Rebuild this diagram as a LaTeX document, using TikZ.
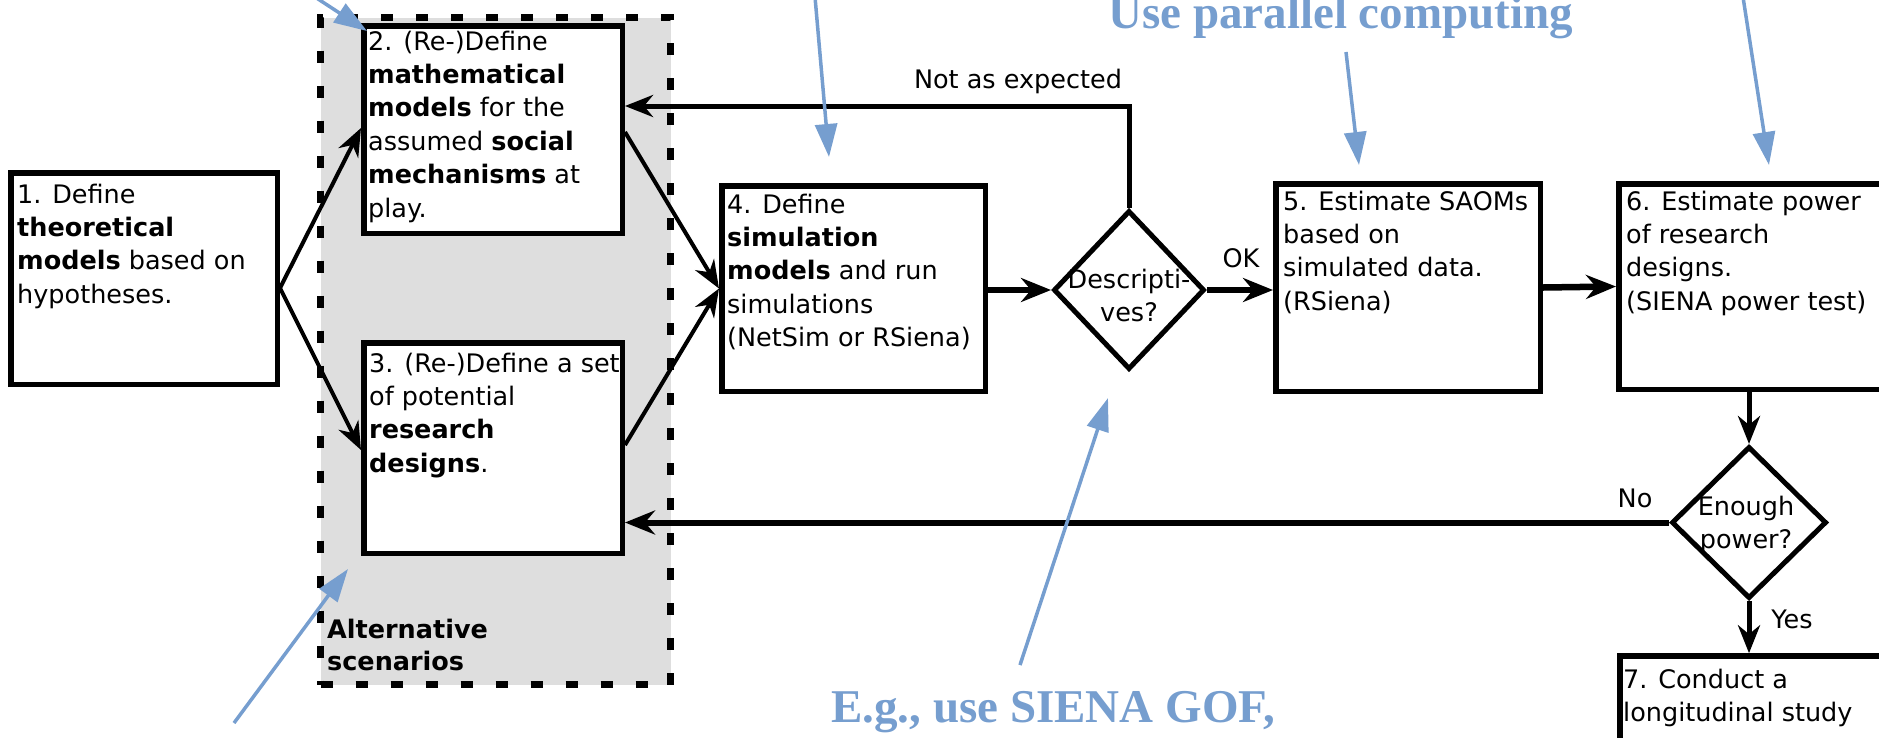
\documentclass[tikz,border=0pt]{standalone}
\usepackage{fontspec}
\setmainfont{DejaVu Sans}
\newfontfamily\tnr{Liberation Serif}
\usetikzlibrary{arrows.meta,shapes.geometric}
\definecolor{annot}{HTML}{769ECF}
\definecolor{altgray}{HTML}{DEDEDE}
\begin{document}
\begin{tikzpicture}[x=1pt,y=-1pt,
  box/.style={draw, line width=5.5pt, fill=white, inner sep=0pt},
  dia/.style={draw, diamond, line width=5pt, fill=white, inner sep=0pt},
  altbox/.style={draw, fill=altgray, line width=7pt, dash pattern=on 12pt off 23pt, inner sep=0pt},
  txt/.style={font=\fontsize{25.5}{33.4}\selectfont, align=left, anchor=base west, inner sep=0pt},
  ctxt/.style={font=\fontsize{25.5}{33.6}\selectfont, align=center, anchor=base, inner sep=0pt},
  conn/.style={line width=4pt, -{Stealth[length=28pt,width=22pt,inset=9pt]}},
  thickconn/.style={line width=6.5pt, -{Stealth[length=30pt,width=24pt,inset=10pt]}},
  midconn/.style={line width=5pt, -{Stealth[length=28pt,width=22pt,inset=9pt]}},
  note/.style={text=annot, font=\tnr\bfseries\fontsize{47}{50}\selectfont, anchor=base west, inner sep=0pt},
  blue/.style={draw=annot, line width=3.5pt, -{Triangle[length=33pt,width=22pt]}}
]
\useasboundingbox (0,0) rectangle (1879,737);
\clip (0,0) rectangle (1879,737);

% alternative scenarios region
\node[altbox, minimum width=350pt, minimum height=667pt] (alt) at (495.5,351) {};
\node[txt, font=\fontsize{25.5}{32}\selectfont\bfseries] (altt) at (327,670) {Alternative\\scenarios};

% boxes
\node[box, minimum width=266.5pt, minimum height=211.5pt] (b1) at (144,278.5) {};
\node[box, minimum width=258.5pt, minimum height=207.5pt] (b2) at (493,129.5) {};
\node[box, minimum width=258.5pt, minimum height=210.5pt] (b3) at (493,448) {};
\node[box, minimum width=263.5pt, minimum height=205.5pt] (b4) at (853.5,288.5) {};
\node[box, minimum width=264.5pt, minimum height=207.5pt] (b5) at (1408,287.5) {};
\node[box, minimum width=264.5pt, minimum height=205.5pt] (b6) at (1751,286.5) {};
\node[box, minimum width=264.5pt, minimum height=194pt] (b7) at (1752,753) {};

% diamonds
\node[dia, minimum width=151pt, minimum height=159pt] (d1) at (1129,290) {};
\node[dia, minimum width=155pt, minimum height=152pt] (d2) at (1749,522.5) {};

% texts (anchor = baseline of the last line)
\node[txt] (t1) at (17,303.2) {1. Define\\\textbf{theoretical}\\\textbf{models} based on\\hypotheses.};
\node[txt] (t2) at (368,217) {2. (Re-)Define\\\textbf{mathematical}\\\textbf{models} for the\\assumed \textbf{social}\\\textbf{mechanisms} at\\play.};
\node[txt] (t3) at (369,472.2) {3. (Re-)Define a set\\of potential\\\textbf{research}\\\textbf{designs}.};
\node[txt] (t4) at (727,346.6) {4. Define\\\textbf{simulation}\\\textbf{models} and run\\simulations\\(NetSim or RSiena)};
\node[txt] (t5) at (1283,310.2) {5. Estimate SAOMs\\based on\\simulated data.\\(RSiena)};
\node[txt] (t6) at (1626,310.2) {6. Estimate power\\of research\\designs.\\(SIENA power test)};
\node[txt] (t7) at (1623,721.4) {7. Conduct a\\longitudinal study};
\node[ctxt] (td1) at (1129,321.6) {Descripti-\\ves?};
\node[ctxt] (td2) at (1746,548.6) {Enough\\power?};

% connectors
\draw[conn] ([yshift=-9.5pt]b1.east) -- ([yshift=1.5pt]b2.west);
\draw[conn] ([yshift=-9.5pt]b1.east) -- ([yshift=-2pt]b3.west);
\draw[conn] ([yshift=-2.5pt]b2.east) -- (b4.west);
\draw[conn] ([yshift=3pt]b3.east) -- (b4.west);
\draw[thickconn] (b4.east |- d1.west) -- (d1.west);
\draw[thickconn] (d1.east) -- (d1.east -| b5.west);
\draw[thickconn] (b5.east) -- (b6.west);
\draw[midconn] (d1.north) |- ([yshift=23.5pt]b2.east);
\draw[midconn] (d2.north |- b6.south) -- (d2.north);
\draw[midconn] (d2.south) -- (d2.south |- b7.north);
\draw[line width=6pt, -{Stealth[length=30pt,width=24pt,inset=10pt]}] (d2.west) -- (d2.west -| b3.east);

% connector labels
\node[ctxt] (lnot) at (1018,88) {Not as expected};
\node[ctxt] (lok) at (1241,267) {OK};
\node[ctxt] (lno) at (1635,507) {No};
\node[ctxt] (lyes) at (1792,628) {Yes};

% annotations
\node[note] (npar) at (1108,28) {Use parallel computing};
\node[note] (ngof) at (831,722) {E.g., use SIENA GOF,};

\coordinate (a1s) at (315,-3);
\coordinate (a1e) at (367,31);
\coordinate (a2s) at (815,-3);
\coordinate (a2e) at (829,157);
\coordinate (a3s) at (1346,52);
\coordinate (a3e) at (1359,165);
\coordinate (a4s) at (1743,-3);
\coordinate (a4e) at (1769,165);
\coordinate (a5s) at (1020,665);
\coordinate (a5e) at (1108,398);
\coordinate (a6s) at (234,723);
\coordinate (a6e) at (348,569);
\draw[blue] (a1s) -- (a1e);
\draw[blue] (a2s) -- (a2e);
\draw[blue] (a3s) -- (a3e);
\draw[blue] (a4s) -- (a4e);
\draw[blue] (a5s) -- (a5e);
\draw[blue] (a6s) -- (a6e);
\end{tikzpicture}
\end{document}
